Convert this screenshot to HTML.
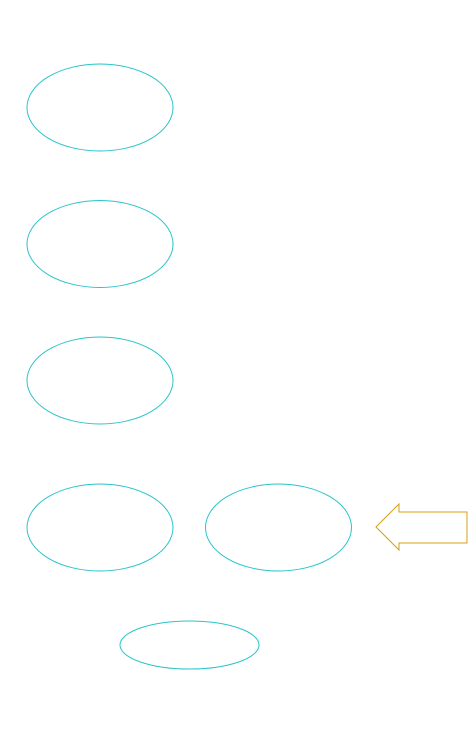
<!DOCTYPE html>
<html><head><meta charset="utf-8"><style>html,body{margin:0;padding:0;background:#fff;width:472px;height:735px;overflow:hidden}</style></head>
<body>
<svg width="472" height="735" viewBox="0 0 472 735" xmlns="http://www.w3.org/2000/svg">
<g fill="none" stroke="#29c4c9" stroke-width="1">
<ellipse cx="100" cy="107.5" rx="73" ry="43.5"/>
<ellipse cx="100" cy="244" rx="73" ry="43.5"/>
<ellipse cx="100" cy="380.5" rx="73" ry="43.5"/>
<ellipse cx="100" cy="527.5" rx="73" ry="43.5"/>
<ellipse cx="278.5" cy="527.5" rx="73" ry="43.5"/>
<ellipse cx="189.5" cy="645" rx="69.5" ry="24"/>
</g>
<polygon points="376,527 399,504 399,512 467,512 467,543 399,543 399,550" fill="none" stroke="#d4a017" stroke-width="1"/>
</svg>
</body></html>
